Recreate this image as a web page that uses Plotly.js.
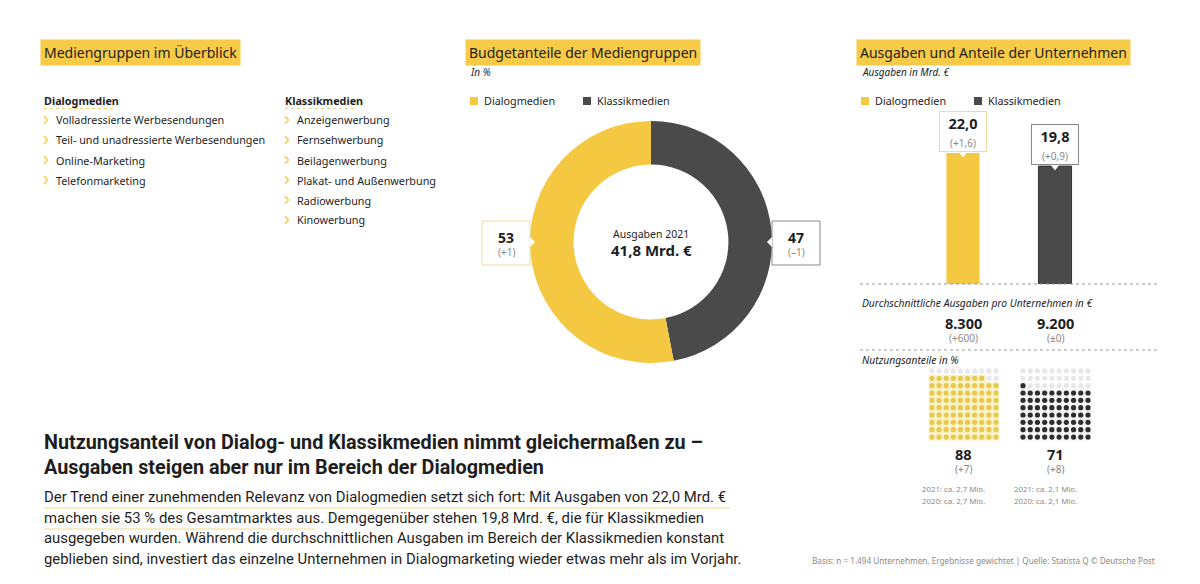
<!DOCTYPE html>
<html><head><meta charset="utf-8">
<script src="https://cdn.plot.ly/plotly-3.0.1.min.js"></script>
<style>html,body{margin:0;padding:0;background:#fff}#chart{width:1200px;height:584px}</style>
</head><body><div id="chart"></div>
<script>
// ---------- data ----------
const categories = ['Dialogmedien', 'Klassikmedien'];
const budgetShare = [53, 47];
const budgetChange = ['(+1)', '(–1)'];
const totalSpendLabel = 'Ausgaben 2021';
const totalSpend = '41,8 Mrd. €';
const spending = [22.0, 19.8];
const spendingChange = ['+1,6', '+0,9'];
const avgSpend = ['8.300', '9.200'];
const avgChange = ['+600', '±0'];
const usageShare = [88, 71];
const usageChange = ['+7', '+8'];
const users2021 = ['ca. 2,7 Mio.', 'ca. 2,1 Mio.'];
const users2020 = ['ca. 2,7 Mio.', 'ca. 2,1 Mio.'];
const dialogItems = ['Volladressierte Werbesendungen', 'Teil- und unadressierte Werbesendungen', 'Online-Marketing', 'Telefonmarketing'];
const klassikItems = ['Anzeigenwerbung', 'Fernsehwerbung', 'Beilagenwerbung', 'Plakat- und Außenwerbung', 'Radiowerbung', 'Kinowerbung'];

// ---------- style ----------
const YEL = '#f5c842', DARK = '#4a4a4a', HL = '#f7ca48', TXT = '#1e1e1e', GREY = '#8a8a8a';
const F = 'Noto Sans, Open Sans, sans-serif', FC = 'Roboto, Noto Sans, sans-serif';
const W = 1200, H = 584;
const X = x => x / W, Y = y => 1 - y / H;
const fmt = v => v.toFixed(1).replace('.', ',');

const ann = [], shapes = [];
function txt(x, y, text, size, opt = {}) {
  const a = Object.assign({xref: 'paper', yref: 'paper', x: X(x), y: Y(y), text: text, showarrow: false,
    xanchor: 'left', yanchor: 'middle', font: {family: opt.family || F, size: size, color: opt.color || TXT}}, opt.extra || {});
  if (a.xanchor === 'left') a.xshift = -2;
  if (a.xanchor === 'right') a.xshift = 2;
  ann.push(a);
}
function title(x, y, text) {
  ann.push({xref: 'paper', yref: 'paper', x: X(x), y: Y(y), text: text, showarrow: false, xanchor: 'left', yanchor: 'middle',
    bgcolor: HL, borderpad: 3, font: {family: F, size: 14, color: TXT}});
}
function line(x0, y0, x1, y1, color, dash, width) {
  shapes.push({type: 'line', xref: 'paper', yref: 'paper', x0: X(x0), y0: Y(y0), x1: X(x1), y1: Y(y1), line: {color: color, width: width || 1, dash: dash || 'solid'}});
}
function rect(x0, y0, x1, y1, fill, lc) {
  shapes.push({type: 'rect', xref: 'paper', yref: 'paper', x0: X(x0), y0: Y(y0), x1: X(x1), y1: Y(y1), fillcolor: fill, line: {color: lc || fill, width: lc ? 1 : 0}});
}
function path(pts, fill, lc) {
  const d = 'M ' + pts.map(p => X(p[0]) + ',' + Y(p[1])).join(' L ') + (fill ? ' Z' : '');
  shapes.push({type: 'path', xref: 'paper', yref: 'paper', path: d, fillcolor: fill || 'rgba(0,0,0,0)', line: {color: lc, width: lc ? 1.3 : 0}});
}

// ---------- section 1: list ----------
title(40, 52, 'Mediengruppen im Überblick');
function list(x, head, items) {
  txt(x, 101, '<b>' + head + '</b>', 10.8);
  line(x, 108.5, x + 72, 108.5, '#f0d27a', 'dot', 1);
  items.forEach((it, i) => {
    const y = 120 + i * 20;
    path([[x, y - 4], [x + 3.5, y], [x, y + 4]], null, YEL);
    txt(x + 12, y, it, 10.8);
  });
}
list(44, categories[0], dialogItems);
list(285, categories[1], klassikItems);

// ---------- section 2: donut ----------
title(465, 52, 'Budgetanteile der Mediengruppen');
txt(470, 72, '<i>In %</i>', 10);
function legend(x) {
  rect(x, 97, x + 8, 105, YEL);
  txt(x + 14, 101, categories[0], 10.8);
  rect(x + 113, 97, x + 121, 105, DARK);
  txt(x + 127, 101, categories[1], 10.8);
}
legend(470);
const pieTrace = {
  type: 'pie', values: [budgetShare[1], budgetShare[0]], labels: [categories[1], categories[0]],
  marker: {colors: [DARK, YEL], line: {width: 0}}, hole: 0.64, sort: false, direction: 'clockwise', rotation: 0,
  textinfo: 'none', hoverinfo: 'label+value', showlegend: false,
  domain: {x: [X(530), X(772)], y: [Y(363), Y(121)]}
};
txt(651, 234, totalSpendLabel, 10.5, {extra: {xanchor: 'center'}});
txt(651, 250, '<b>' + totalSpend + '</b>', 15, {extra: {xanchor: 'center'}});
// value boxes
rect(482, 221, 530, 265, '#ffffff', '#f0dc9a');
path([[530, 237], [535, 242], [530, 247]], '#ffffff', null);
txt(506, 237, '<b>' + budgetShare[0] + '</b>', 14, {extra: {xanchor: 'center'}});
txt(506, 252, budgetChange[0], 10, {color: GREY, extra: {xanchor: 'center'}});
rect(772, 221, 820, 265, '#ffffff', '#8a8a8a');
path([[772, 237], [767, 242], [772, 247]], '#ffffff', null);
txt(796, 237, '<b>' + budgetShare[1] + '</b>', 14, {extra: {xanchor: 'center'}});
txt(796, 252, budgetChange[1], 10, {color: GREY, extra: {xanchor: 'center'}});

// ---------- section 3: bars ----------
title(856, 52, 'Ausgaben und Anteile der Unternehmen');
txt(862, 72, '<i>Ausgaben in Mrd. €</i>', 10);
legend(861);
const barTrace = {
  type: 'bar', x: categories, y: spending, marker: {color: [YEL, DARK], line: {color: ['rgba(0,0,0,0)', '#333'], width: 1}},
  width: 0.36, xaxis: 'x', yaxis: 'y', hoverinfo: 'x+y', showlegend: false
};
const notchTrace = {
  type: 'scatter', mode: 'markers', x: categories, y: spending, xaxis: 'x', yaxis: 'y',
  marker: {symbol: 'triangle-down', size: 9, color: '#fff'}, hoverinfo: 'skip', showlegend: false
};
categories.forEach((c, i) => {
  ann.push({xref: 'x', yref: 'y', x: c, y: spending[i], yanchor: 'bottom', xanchor: 'center', showarrow: false, yshift: 1,
    text: '<b>' + fmt(spending[i]) + '</b><br><span style="font-size:10px;color:' + GREY + '">(' + spendingChange[i] + ')</span>',
    width: 44, height: 37, bgcolor: '#fff', bordercolor: i === 0 ? '#f0dc9a' : '#8a8a8a', borderwidth: 1, borderpad: 1,
    font: {family: F, size: 14.5, color: TXT}});
});
line(860, 284, 1158, 284, '#999', 'dot', 1);
txt(862, 303, '<i>Durchschnittliche Ausgaben pro Unternehmen in €</i>', 10.3);
const colX = [963, 1055];
categories.forEach((c, i) => {
  txt(colX[i], 323, '<b>' + avgSpend[i] + '</b>', 14.5, {extra: {xanchor: 'center'}});
  txt(colX[i], 338, '(' + avgChange[i] + ')', 10, {color: GREY, extra: {xanchor: 'center'}});
});
line(860, 350, 1158, 350, '#999', 'dot', 1);
txt(862, 360, '<i>Nutzungsanteile in %</i>', 10.3);

// waffle grids
const waffleTraces = [];
const waffleColors = [['#e6c94e', '#fbf2c9'], ['#2e2e2e', '#f6f6f6']];
usageShare.forEach((v, g) => {
  const xs = [], ys = [], cs = [];
  for (let k = 0; k < 100; k++) {
    xs.push(k % 10); ys.push(Math.floor(k / 10)); cs.push(k < v ? waffleColors[g][0] : '#e8e8ea');
  }
  const ax = g === 0 ? '2' : '3';
  const full = Math.floor(v / 10), rem = v % 10;
  shapes.push({type: 'path', xref: 'x' + ax, yref: 'y' + ax, layer: 'below', fillcolor: waffleColors[g][1], line: {width: 0},
    path: `M -0.5,-0.5 L 9.5,-0.5 L 9.5,${full - 0.5} L ${rem - 0.5},${full - 0.5} L ${rem - 0.5},${full + 0.5} L -0.5,${full + 0.5} Z`});
  waffleTraces.push({type: 'scatter', mode: 'markers', x: xs, y: ys, xaxis: 'x' + ax, yaxis: 'y' + ax,
    marker: {size: 5.2, color: cs}, hoverinfo: 'skip', showlegend: false});
  txt(colX[g], 454, '<b>' + v + '</b>', 14.5, {extra: {xanchor: 'center'}});
  txt(colX[g], 469, '(' + usageChange[g] + ')', 10, {color: GREY, extra: {xanchor: 'center'}});
  txt(colX[g] - 41, 489, '2021: ' + users2021[g], 7.8, {color: GREY});
  txt(colX[g] - 41, 501, '2020: ' + users2020[g], 7.8, {color: GREY});
});

// ---------- bottom text ----------
txt(44, 442, '<b>Nutzungsanteil von Dialog- und Klassikmedien nimmt gleichermaßen zu –</b>', 19.8, {family: FC});
txt(44, 467, '<b>Ausgaben steigen aber nur im Bereich der Dialogmedien</b>', 19.8, {family: FC});
const para = [
  'Der Trend einer zunehmenden Relevanz von Dialogmedien setzt sich fort: Mit Ausgaben von 22,0 Mrd. €',
  'machen sie 53 % des Gesamtmarktes aus. Demgegenüber stehen 19,8 Mrd. €, die für Klassikmedien',
  'ausgegeben wurden. Während die durchschnittlichen Ausgaben im Bereich der Klassikmedien konstant',
  'geblieben sind, investiert das einzelne Unternehmen in Dialogmarketing wieder etwas mehr als im Vorjahr.'
];
para.forEach((l, i) => txt(44, 497 + i * 20.7, l, 14.9, {family: FC}));
line(44, 508, 730, 508, '#f3d98a', 'solid', 1);
line(44, 529, 315, 529, '#f3d98a', 'solid', 1);
txt(1155, 560, 'Basis: n = 1.494 Unternehmen, Ergebnisse gewichtet | Quelle: Statista Q © Deutsche Post', 8.2, {color: GREY, extra: {xanchor: 'right'}});

const hidden = {visible: false, fixedrange: true};
const layout = {
  width: W, height: H, margin: {l: 0, r: 0, t: 0, b: 0}, paper_bgcolor: '#fff', plot_bgcolor: 'rgba(0,0,0,0)', showlegend: false,
  xaxis: Object.assign({domain: [X(917), X(1101)], type: 'category', range: [-0.5, 1.5]}, hidden),
  yaxis: Object.assign({domain: [Y(284), Y(153)], range: [0, 22]}, hidden),
  xaxis2: Object.assign({domain: [X(928.4), X(999.6)], range: [-0.5, 9.5], anchor: 'y2'}, hidden),
  yaxis2: Object.assign({domain: [Y(440.7), Y(367.3)], range: [-0.5, 9.5], anchor: 'x2'}, hidden),
  xaxis3: Object.assign({domain: [X(1019.4), X(1091.6)], range: [-0.5, 9.5], anchor: 'y3'}, hidden),
  yaxis3: Object.assign({domain: [Y(440.7), Y(367.3)], range: [-0.5, 9.5], anchor: 'x3'}, hidden),
  annotations: ann, shapes: shapes
};
Plotly.newPlot('chart', [pieTrace, barTrace, notchTrace].concat(waffleTraces), layout, {displayModeBar: false, staticPlot: true});
</script></body></html>
